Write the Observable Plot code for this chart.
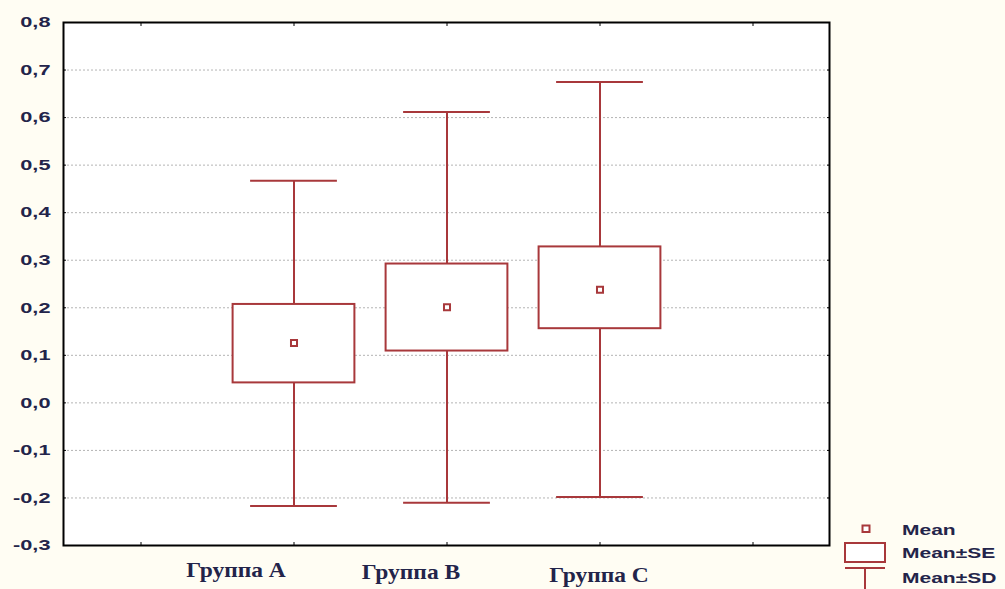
<!DOCTYPE html>
<html><head><meta charset="utf-8">
<script src="https://cdn.jsdelivr.net/npm/d3@7"></script>
<script src="https://cdn.jsdelivr.net/npm/@observablehq/plot@0.6"></script>
<style>
html,body{margin:0;padding:0;background:#fffdf3;}
#wrap{position:relative;width:1005px;height:589px;overflow:hidden;}
#legend{position:absolute;left:835px;top:515px;overflow:visible;}
</style></head><body>
<div id="wrap"></div>
<script>
// ---- data ----
const groups = ["Группа A", "Группа B", "Группа C"];
const means  = [0.126, 0.201, 0.238];
const seLow  = [0.042, 0.109, 0.156];
const seHigh = [0.207, 0.292, 0.328];
const sdLow  = [-0.217, -0.210, -0.198];
const sdHigh = [0.467, 0.612, 0.675];
const yTicks = [-0.3, -0.2, -0.1, 0.0, 0.1, 0.2, 0.3, 0.4, 0.5, 0.6, 0.7, 0.8];
const gridTicks = [-0.2, -0.1, 0.0, 0.1, 0.2, 0.3, 0.4, 0.5, 0.6, 0.7];
const slots = ["", ...groups, " "];
const legendLabels = ["Mean", "Mean±SE", "Mean±SD"];

const data = groups.map((g, i) => ({group: g, mean: means[i], seLow: seLow[i], seHigh: seHigh[i], sdLow: sdLow[i], sdHigh: sdHigh[i]}));

const red = "#a8383b";
const ink = "#23244a";
const W = 1005, H = 589, ML = 63, MR = 176, MT = 22, MB = 44;
const bandW = (W - ML - MR) / slots.length;
const boxInset = (bandW - 122) / 2;
const capInset = (bandW - 87) / 2;
const fmt = d => d.toFixed(1).replace(".", ",");
const labelOffsets = [-58, -36, -1];
const labelDy = [25, 27, 30];

const plot = Plot.plot({
  width: W, height: H,
  marginLeft: ML, marginRight: MR, marginTop: MT, marginBottom: MB,
  style: {background: "transparent", overflow: "visible"},
  x: {type: "band", domain: slots, padding: 0, label: null},
  y: {domain: [-0.3, 0.8], label: null},
  marks: [
    Plot.frame({fill: "white", stroke: null}),
    Plot.gridY(gridTicks, {stroke: "#b4b4b4", strokeOpacity: 1, strokeWidth: 1, strokeDasharray: "2,2"}),
    // small inward ticks on all four sides
    Plot.axisY(yTicks, {anchor: "left", tickSize: 3, dx: 3, tickFormat: () => "", stroke: "#000"}),
    Plot.axisY(yTicks, {anchor: "right", tickSize: 3, dx: -3, tickFormat: () => "", stroke: "#000"}),
    Plot.axisX(slots, {anchor: "top", tickSize: 3, dy: 3, tickFormat: () => "", stroke: "#000"}),
    Plot.axisX(slots, {anchor: "bottom", tickSize: 3, dy: -3, tickFormat: () => "", stroke: "#000"}),
    // y tick labels
    Plot.axisY(yTicks, {anchor: "left", tickSize: 0, tickPadding: 13, tickFormat: fmt,
      fontSize: 15, fontWeight: "bold", fontFamily: "Liberation Sans, Arial, sans-serif", fill: ink}),
    // whiskers (SD)
    Plot.ruleX(data, {x: "group", y1: "seHigh", y2: "sdHigh", stroke: red, strokeWidth: 2}),
    Plot.ruleX(data, {x: "group", y1: "sdLow", y2: "seLow", stroke: red, strokeWidth: 2}),
    Plot.tickY(data, {x: "group", y: "sdHigh", stroke: red, strokeWidth: 2, insetLeft: capInset, insetRight: capInset}),
    Plot.tickY(data, {x: "group", y: "sdLow", stroke: red, strokeWidth: 2, insetLeft: capInset, insetRight: capInset}),
    // SE boxes
    Plot.barY(data, {x: "group", y1: "seLow", y2: "seHigh", fill: "white", stroke: red, strokeWidth: 2,
      insetLeft: boxInset, insetRight: boxInset}),
    // means
    Plot.dot(data, {x: "group", y: "mean", symbol: "square", r: 3.4, fill: "white", stroke: red, strokeWidth: 2}),
    // group labels
    ...groups.map((g, i) => Plot.text([g], {x: d => d, frameAnchor: "bottom", dx: labelOffsets[i], dy: labelDy[i],
      lineAnchor: "middle", textAnchor: "middle", fontSize: 21, fontWeight: "bold",
      fontFamily: "Liberation Serif, Times New Roman, serif", fill: ink}))
  ]
});

document.getElementById("wrap").appendChild(plot);

// frame stroke on top
function stretch(el, sx) {
  const t = el.getAttribute("transform") || "";
  const x = el.getAttribute("x");
  let tr = t;
  if (x != null && !isNaN(+x)) { tr += ` translate(${x},0)`; el.removeAttribute("x"); }
  el.setAttribute("transform", tr + ` scale(${sx},1)`);
}
d3.select(plot).selectAll("text").each(function() {
  const s = this.textContent;
  if (/Группа/.test(s)) stretch(this, 1.12);
  else if (/\d/.test(s)) stretch(this, 1.45);
});

// black frame drawn over everything
const frame = Plot.plot({
  width: W, height: H, marginLeft: ML, marginRight: MR, marginTop: MT, marginBottom: MB,
  style: {background: "transparent", position: "absolute", left: "0px", top: "0px"},
  x: {type: "band", domain: slots, padding: 0, axis: null},
  y: {domain: [-0.3, 0.8], axis: null},
  marks: [Plot.frame({stroke: "#000", strokeWidth: 2})]
});
document.getElementById("wrap").appendChild(frame);

// legend
const ns = "http://www.w3.org/2000/svg";
const lg = d3.select("#wrap").append("svg").attr("id", "legend").attr("width", 170).attr("height", 80);
lg.append("rect").attr("x", 27.5).attr("y", 10.5).attr("width", 7).attr("height", 6.5)
  .attr("fill", "white").attr("stroke", red).attr("stroke-width", 2);
lg.append("rect").attr("x", 10).attr("y", 28).attr("width", 40).attr("height", 19)
  .attr("fill", "white").attr("stroke", red).attr("stroke-width", 2);
lg.append("line").attr("x1", 10).attr("x2", 50).attr("y1", 53).attr("y2", 53).attr("stroke", red).attr("stroke-width", 2);
lg.append("line").attr("x1", 30).attr("x2", 30).attr("y1", 53).attr("y2", 80).attr("stroke", red).attr("stroke-width", 2);
const ly = [15, 38, 63];
legendLabels.forEach((t, i) => {
  lg.append("text").attr("transform", `translate(67,${ly[i]}) scale(1.45,1)`)
    .attr("dy", "0.35em").attr("font-family", "Liberation Sans, Arial, sans-serif")
    .attr("font-size", 14.5).attr("font-weight", "bold").attr("fill", ink).text(t);
});
</script>
</body></html>
